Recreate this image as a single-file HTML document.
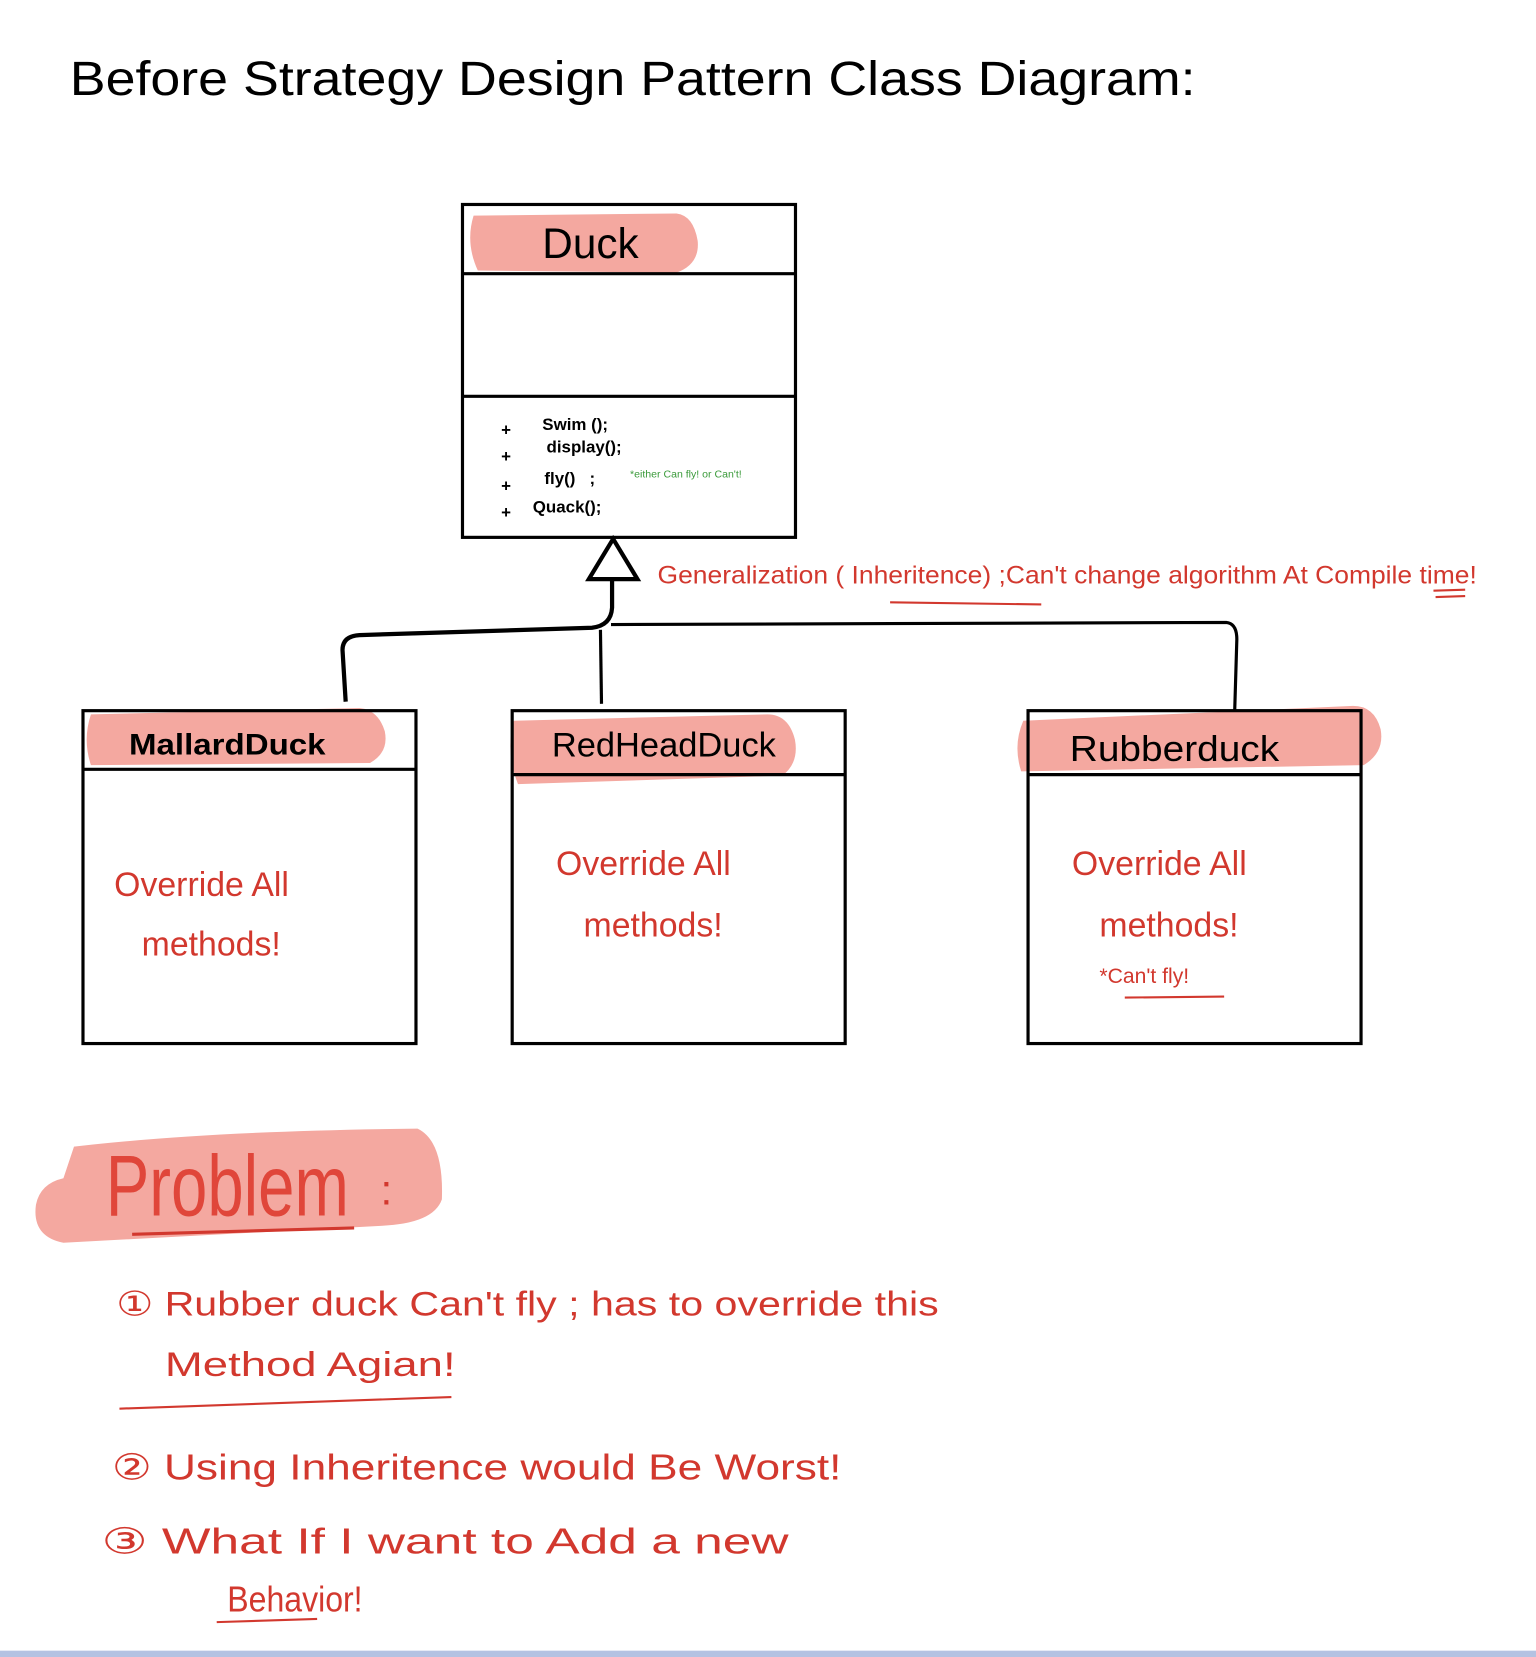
<!DOCTYPE html>
<html><head><meta charset="utf-8"><style>
html,body{margin:0;padding:0;background:#fff;width:1536px;height:1657px;overflow:hidden}
svg{display:block}
text{font-family:"Liberation Sans",sans-serif}
</style></head><body>
<svg width="1536" height="1657" viewBox="0 0 1453 1568" preserveAspectRatio="none">
<rect width="1453" height="1568" fill="#fff"/>
<rect x="0" y="1562" width="1453" height="6" fill="#b4c2e2"/>
<!-- title -->
<text x="66" y="90" font-size="46" fill="#000" textLength="1065" lengthAdjust="spacingAndGlyphs">Before Strategy Design Pattern Class Diagram:</text>
<!-- Duck -->
<path d="M448,204 Q440,230 452,256 L640,258 Q662,250 660,228 Q656,204 640,202 Z" fill="#f4a8a0"/>
<rect x="437.5" y="193.5" width="315" height="315" fill="none" stroke="#000" stroke-width="3"/>
<line x1="437" y1="259" x2="752" y2="259" stroke="#000" stroke-width="3"/>
<line x1="437" y1="375" x2="752" y2="375" stroke="#000" stroke-width="3"/>
<text x="513" y="244" font-size="40" fill="#000">Duck</text>
<g font-size="16" font-weight="bold" fill="#000">
<text x="474" y="412">+</text><text x="513" y="407">Swim ();</text>
<text x="474" y="437">+</text><text x="517" y="428">display();</text>
<text x="474" y="465">+</text><text x="515" y="458">fly()&#160;&#160;&#160;;</text>
<text x="474" y="490">+</text><text x="504" y="485">Quack();</text>
</g>
<text x="596" y="452" font-size="10" fill="#3a9a3a">*either Can fly! or Can't!</text>
<!-- arrow -->
<polygon points="580,510 557,548 603,548" fill="#fff" stroke="#000" stroke-width="4"/>
<path d="M579,548 L579,575 Q578,592 560,594 L340,601 Q324,602 324,615 L327,664" fill="none" stroke="#000" stroke-width="4"/>
<path d="M568,596 L569,666" fill="none" stroke="#000" stroke-width="3"/>
<path d="M578,591 L1160,589 Q1170,590 1170,605 L1168,672" fill="none" stroke="#000" stroke-width="3"/>
<text x="622" y="552" font-size="24" fill="#d2382e" textLength="775" lengthAdjust="spacingAndGlyphs">Generalization ( Inheritence) ;Can't change algorithm At Compile time!</text>
<line x1="842" y1="570" x2="985" y2="572" stroke="#d2382e" stroke-width="2"/>
<line x1="1356" y1="559" x2="1386" y2="558" stroke="#d2382e" stroke-width="2"/>
<line x1="1358" y1="565" x2="1386" y2="564" stroke="#d2382e" stroke-width="2"/>
<!-- Mallard -->
<path d="M86,676 Q78,700 86,724 L350,722 Q368,712 364,692 Q358,672 340,670 Z" fill="#f4a8a0"/>
<rect x="78.5" y="672.5" width="315" height="315" fill="none" stroke="#000" stroke-width="3"/>
<line x1="78" y1="728" x2="393" y2="728" stroke="#000" stroke-width="3"/>
<text x="122" y="714" font-size="28" font-weight="bold" fill="#000" textLength="186" lengthAdjust="spacingAndGlyphs">MallardDuck</text>
<text x="108" y="848" font-size="32" fill="#d2382e">Override All</text>
<text x="134" y="904" font-size="32" fill="#d2382e">methods!</text>
<!-- RedHead -->
<path d="M486,682 Q478,712 490,742 L740,734 Q756,722 752,700 Q746,676 726,676 Z" fill="#f4a8a0"/>
<rect x="484.5" y="672.5" width="315" height="315" fill="none" stroke="#000" stroke-width="3"/>
<line x1="484" y1="733" x2="800" y2="733" stroke="#000" stroke-width="3"/>
<text x="522" y="716" font-size="32" fill="#000" textLength="212" lengthAdjust="spacingAndGlyphs">RedHeadDuck</text>
<text x="526" y="828" font-size="32" fill="#d2382e">Override All</text>
<text x="552" y="886" font-size="32" fill="#d2382e">methods!</text>
<!-- Rubber -->
<path d="M968,682 Q958,705 966,730 L1290,724 Q1310,712 1306,690 Q1300,668 1280,668 Z" fill="#f4a8a0"/>
<rect x="972.5" y="672.5" width="315" height="315" fill="none" stroke="#000" stroke-width="3"/>
<line x1="972" y1="733" x2="1287" y2="733" stroke="#000" stroke-width="3"/>
<text x="1012" y="720" font-size="34" fill="#000" textLength="198" lengthAdjust="spacingAndGlyphs">Rubberduck</text>
<text x="1014" y="828" font-size="32" fill="#d2382e">Override All</text>
<text x="1040" y="886" font-size="32" fill="#d2382e">methods!</text>
<text x="1040" y="930" font-size="20" fill="#d2382e">*Can't fly!</text>
<line x1="1064" y1="944" x2="1158" y2="943" stroke="#d2382e" stroke-width="2"/>
<!-- Problem -->
<path d="M70,1085 Q200,1070 395,1068 Q420,1080 418,1135 Q410,1158 360,1160 L60,1176 Q30,1170 34,1140 Q38,1120 60,1115 Z" fill="#f4a8a0"/>
<text x="100" y="1150" font-size="82" fill="#e0463a" textLength="230" lengthAdjust="spacingAndGlyphs">Problem</text>
<text x="360" y="1140" font-size="40" fill="#d2382e">:</text>
<line x1="125" y1="1168" x2="335" y2="1162" stroke="#d2382e" stroke-width="3"/>
<g fill="#d2382e">
<text x="110" y="1245" font-size="32" textLength="778" lengthAdjust="spacingAndGlyphs">① Rubber duck Can't fly ; has to override this</text>
<text x="156" y="1302" font-size="32" textLength="275" lengthAdjust="spacingAndGlyphs">Method Agian!</text>
<text x="106" y="1400" font-size="34" textLength="690" lengthAdjust="spacingAndGlyphs">② Using Inheritence would Be Worst!</text>
<text x="96" y="1470" font-size="34" textLength="650" lengthAdjust="spacingAndGlyphs">③ What If I want to Add a new</text>
<text x="215" y="1525" font-size="34" textLength="128" lengthAdjust="spacingAndGlyphs">Behavior!</text>
</g>
<line x1="113" y1="1333" x2="427" y2="1322" stroke="#d2382e" stroke-width="2"/>
<line x1="205" y1="1535" x2="300" y2="1532" stroke="#d2382e" stroke-width="2"/>
</svg>
</body></html>
